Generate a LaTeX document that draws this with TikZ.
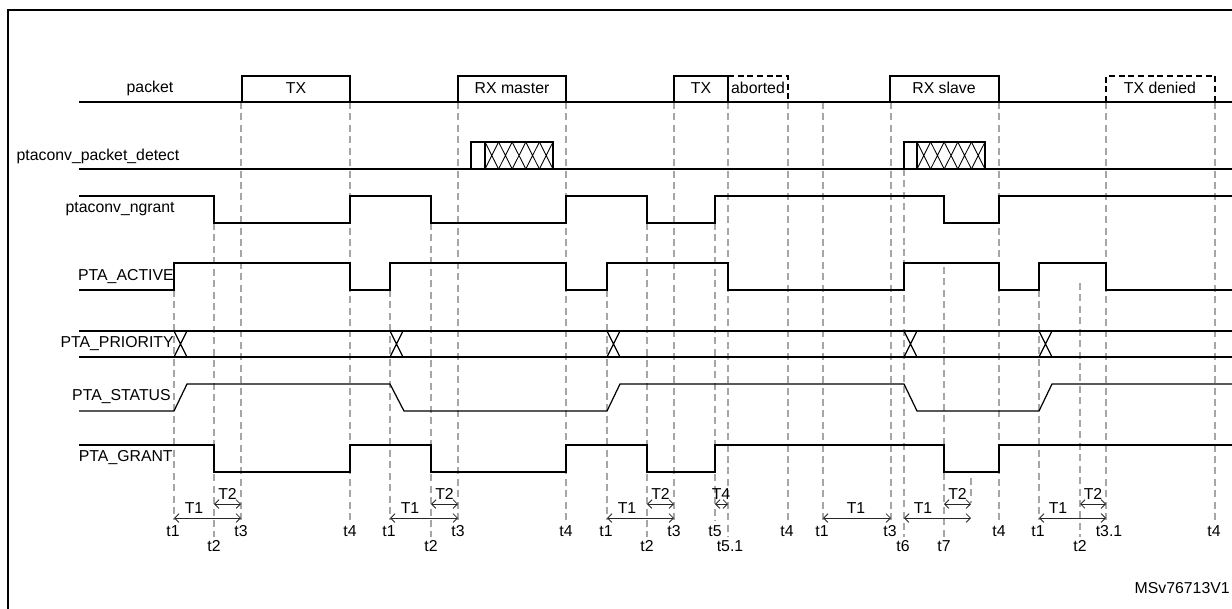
\documentclass[tikz,border=0pt]{standalone}
\usepackage{fontspec}
\setmainfont{Liberation Sans}
\usetikzlibrary{arrows.meta}
\begin{document}
\begin{tikzpicture}[x=0.02cm,y=-0.02cm,
  sig/.style={line width=0.7pt,black},
  guide/.style={gray!70,line width=0.6pt,dash pattern=on 4pt off 2.5pt},
  dbox/.style={line width=0.7pt,dash pattern=on 3.5pt off 2pt},
  lbl/.style={font=\fontsize{9}{10}\selectfont,inner sep=0pt},
  tarr/.style={gray!30!black,line width=0.5pt,{Straight Barb[length=2.5pt,width=5pt]}-{Straight Barb[length=2.5pt,width=5pt]}}]
\useasboundingbox (0,0) rectangle (1232,609);
\fill[white] (0,0) rectangle (1232,609);
\draw[line width=1.1pt] (8,612) -- (8,10) -- (1236,10);
% guides
\foreach \x/\a/\b in {174/290/520,214/223/537,241/102/520,350/102/520,390/290/520,431/223/537,458/102/520,566/102/520,607/290/520,647/223/537,674/102/520,715/223/520,728/102/537,788/102/520,823/102/520,891/102/520,904/169/537,944/267/537,971/478/503,999/102/520,1039/290/520,1080/283/537,1106/102/520,1215/102/520}
  \draw[guide] (\x,\a) -- (\x,\b);
% labels
\node[lbl] (lpk) at (150,88) {packet};
\node[lbl] (ldt) at (98,156) {ptaconv\_packet\_detect};
\node[lbl,anchor=east] (lng) at (175,209) {ptaconv\_ngrant};
\node[lbl,anchor=east] (lac) at (174,277) {PTA\_ACTIVE};
\node[lbl,anchor=east] (lpr) at (174,344) {PTA\_PRIORITY};
\node[lbl,anchor=east] (lst) at (171,397) {PTA\_STATUS};
\node[lbl,anchor=east] (lgr) at (173,458) {PTA\_GRANT};
% packet
\draw[sig] (79,102) -- (1232,102);
\draw[sig] (242,102) -- (242,76) -- (350,76) -- (350,102);
\node[lbl] (ptx) at (296,88) {TX};
\draw[sig] (458,102) -- (458,76) -- (566,76) -- (566,102);
\node[lbl] (prx) at (512,88) {RX master};
\draw[sig] (674,102) -- (674,76) -- (728,76) -- (728,102);
\node[lbl] (ptx2) at (701,88) {TX};
\draw[dbox] (728,76) -- (788,76) -- (788,102);
\node[lbl] (pab) at (758,88) {aborted};
\draw[sig] (890,102) -- (890,76) -- (999,76) -- (999,102);
\node[lbl] (prs) at (944,88) {RX slave};
\draw[dbox] (1106,102) -- (1106,76) -- (1215,76) -- (1215,102);
\node[lbl] (ptd) at (1160,88) {TX denied};
% detect
\draw[sig] (79,169) -- (1232,169);
\foreach \a/\h/\b in {471/485/553,904/917/985}{
  \draw[sig] (\a,169) -- (\a,142) -- (\b,142) -- (\b,169);
  \draw[sig] (\h,142) -- (\h,169);
  \pgfmathsetmacro\w{(\b-\h)/5}
  \foreach \i in {0,...,4}{
    \draw[line width=0.5pt] (\h+\i*\w,142) -- (\h+\i*\w+\w,169) (\h+\i*\w,169) -- (\h+\i*\w+\w,142);}
}
% ngrant
\draw[sig] (79,196) -| (214,223) -| (350,196) -| (431,223) -| (566,196) -| (647,223) -| (715,196) -| (944,223) -| (999,196) -- (1232,196);
% active
\draw[sig] (79,290) -| (174,263) -| (350,290) -| (390,263) -| (566,290) -| (607,263) -| (728,290) -| (904,263) -| (999,290) -| (1039,263) -| (1106,290) -- (1232,290);
% priority
\draw[sig] (79,331) -- (1232,331) (79,357) -- (1232,357);
\foreach \x in {174,390,607,904,1039}
  \draw[sig] (\x,331) -- (\x+13,357) (\x,357) -- (\x+13,331);
% status
\draw[sig] (79,411) -- (174,411) -- (187,384) -- (390,384) -- (404,411) -- (607,411) -- (620,384) -- (904,384) -- (917,411) -- (1039,411) -- (1052,384) -- (1232,384);
% grant
\draw[sig] (79,445) -| (214,472) -| (350,445) -| (431,472) -| (566,445) -| (647,472) -| (715,445) -| (944,472) -| (999,445) -- (1232,445);
% T arrows
\foreach \a/\b/\m in {174/241/194,390/458/410,607/674/627,823/891/856,904/971/923,1039/1106/1058}{
  \draw[tarr] (\a,518) -- (\b,518);
  \node[lbl] at (\m,508) {T1};}
\foreach \a/\b in {214/241,431/458,647/674,944/971,1080/1106}{
  \draw[tarr] (\a,504) -- (\b,504);
  \node[lbl] at ({(\a+\b)/2},494) {T2};}
\draw[tarr] (715,504) -- (728,504);
\node[lbl] (tfour) at (721,494) {T4};
% t labels
\foreach \x/\t in {173/t1,241/t3,350/t4,389/t1,458/t3,566/t4,606/t1,674/t3,715/t5,787/t4,822/t1,890/t3,999/t4,1038/t1,1109/t3.1,1214/t4}
  \node[lbl] at (\x,531) {\t};
\foreach \x/\t in {214/t2,431/t2,647/t2,730/t5.1,903/t6,944/t7,1080/t2}
  \node[lbl] at (\x,546) {\t};
\node[lbl,anchor=east] (msv) at (1230,588) {MSv76713V1};
\end{tikzpicture}
\end{document}
